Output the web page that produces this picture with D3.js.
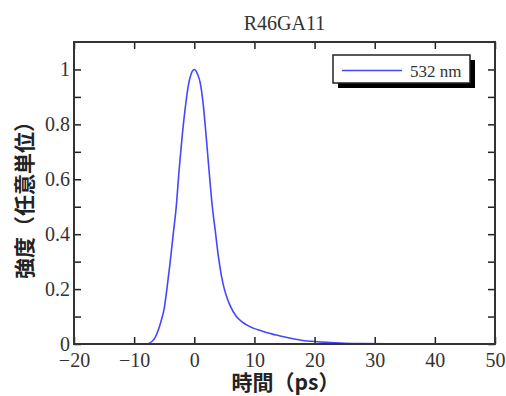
<!DOCTYPE html>
<html>
<head>
<meta charset="utf-8">
<script src="https://cdn.jsdelivr.net/npm/d3@7"></script>
<style>
  body { margin: 0; background: #fff; }
  svg { display: block; }
  .serif { font-family: "Liberation Serif", "Times New Roman", serif; }
  .cjk { font-family: "Noto Sans CJK JP", "Noto Sans", sans-serif; font-weight: bold; }
</style>
</head>
<body>
<figure id="chart" style="margin:0"></figure>
<script>
// time (ps) and intensity (a.u.)
const timePs = [-20, -10, -8, -7, -6.5, -6, -5.5, -5, -4.5, -4, -3.5, -3, -2.5, -2, -1.5, -1, -0.5, 0,
  0.5, 1, 1.5, 2, 2.5, 3, 3.5, 4, 4.5, 5, 5.5, 6, 7, 8, 9, 10, 11, 12, 13, 14, 16, 18, 20, 22, 25, 28, 32, 40, 50];
const intensity = [0, 0, 0, 0.01, 0.024, 0.05, 0.085, 0.13, 0.21, 0.30, 0.40, 0.50, 0.64, 0.76, 0.86, 0.94, 0.985, 1.0,
  0.985, 0.95, 0.87, 0.75, 0.62, 0.50, 0.41, 0.32, 0.25, 0.20, 0.165, 0.138, 0.10, 0.08, 0.066, 0.056, 0.049, 0.042, 0.036, 0.031, 0.021, 0.013, 0.009, 0.006, 0.003, 0.0015, 0.0005, 0, 0];

const xTicks = [-20, -10, 0, 10, 20, 30, 40, 50];
const yTicks = [0, 0.2, 0.4, 0.6, 0.8, 1];
const yMinor = [0.1, 0.3, 0.5, 0.7, 0.9];
const seriesName = "532 nm";
const chartTitle = "R46GA11";

const width = 506, height = 396;
const margin = { top: 42, right: 11, bottom: 52, left: 74 };
const w = width - margin.left - margin.right;
const h = height - margin.top - margin.bottom;

const svg = d3.select("#chart").append("svg")
  .attr("width", width)
  .attr("height", height);

const g = svg.append("g")
  .attr("transform", "translate(" + margin.left + "," + margin.top + ")");

const x = d3.scaleLinear().domain([-20, 50]).range([0, w]);
const y = d3.scaleLinear().domain([0, 1.1]).range([h, 0]);

const data = timePs.map((t, i) => ({ t: t, v: intensity[i] }));

// curve
const line = d3.line()
  .x(d => x(d.t))
  .y(d => y(d.v))
  .curve(d3.curveMonotoneX);

g.append("path")
  .datum(data)
  .attr("fill", "none")
  .attr("stroke", "#4646ff")
  .attr("stroke-width", 1.6)
  .attr("d", line);

// axes: ticks point inwards on all four sides
const tickLen = 7;
const styleAxis = sel => {
  sel.attr("font-family", null).attr("font-size", null);
  sel.select(".domain").remove();
  sel.selectAll(".tick line").attr("stroke", "#222").attr("stroke-width", 1.5);
  sel.selectAll("text")
    .attr("class", "serif")
    .style("font-size", "20px")
    .attr("fill", "#333");
};

g.append("g")
  .attr("transform", "translate(0," + h + ")")
  .call(d3.axisBottom(x).tickValues(xTicks).tickSizeInner(-tickLen).tickPadding(9)
    .tickFormat(d => d < 0 ? "\u2212" + Math.abs(d) : d))
  .call(styleAxis);

g.append("g")
  .call(d3.axisTop(x).tickValues(xTicks).tickSizeInner(-tickLen).tickFormat(""))
  .call(styleAxis);

g.append("g")
  .call(d3.axisLeft(y).tickValues(yTicks.concat(yMinor)).tickSizeInner(-tickLen).tickPadding(4)
    .tickFormat(d => yMinor.includes(d) ? "" : d3.format("~g")(d)))
  .call(styleAxis);

g.append("g")
  .attr("transform", "translate(" + w + ",0)")
  .call(d3.axisRight(y).tickValues(yTicks.concat(yMinor)).tickSizeInner(-tickLen).tickFormat(""))
  .call(styleAxis);

// frame
g.append("rect")
  .attr("width", w)
  .attr("height", h)
  .attr("fill", "none")
  .attr("stroke", "#333")
  .attr("stroke-width", 2);

// title
svg.append("text")
  .attr("class", "serif")
  .attr("x", margin.left + w / 2)
  .attr("y", 30)
  .attr("text-anchor", "middle")
  .style("font-size", "20px")
  .attr("fill", "#333")
  .text(chartTitle);

// axis titles
svg.append("text")
  .attr("class", "cjk")
  .attr("x", margin.left + w / 2 + 1)
  .attr("y", 390)
  .attr("text-anchor", "middle")
  .style("font-size", "21px")
  .attr("fill", "#222")
  .text("時間（ps）");

svg.append("text")
  .attr("class", "cjk")
  .attr("transform", "translate(32," + (margin.top + 153) + ") rotate(-90)")
  .attr("text-anchor", "middle")
  .style("font-size", "21px")
  .attr("fill", "#222")
  .text("強度（任意単位）");

// legend with drop shadow
const lg = svg.append("g").attr("transform", "translate(333,55)");
const lw = 137, lh = 28;
lg.append("rect").attr("x", 5).attr("y", 5).attr("width", lw).attr("height", lh).attr("fill", "#000");
lg.append("rect").attr("width", lw).attr("height", lh).attr("fill", "#fff")
  .attr("stroke", "#222").attr("stroke-width", 1.5);
lg.append("line").attr("x1", 9).attr("x2", 69).attr("y1", 15.5).attr("y2", 15.5)
  .attr("stroke", "#4646ff").attr("stroke-width", 1.6);
lg.append("text").attr("class", "serif").attr("x", 77).attr("y", 21.5)
  .style("font-size", "17px").attr("fill", "#333")
  .text(seriesName);
</script>
</body>
</html>
